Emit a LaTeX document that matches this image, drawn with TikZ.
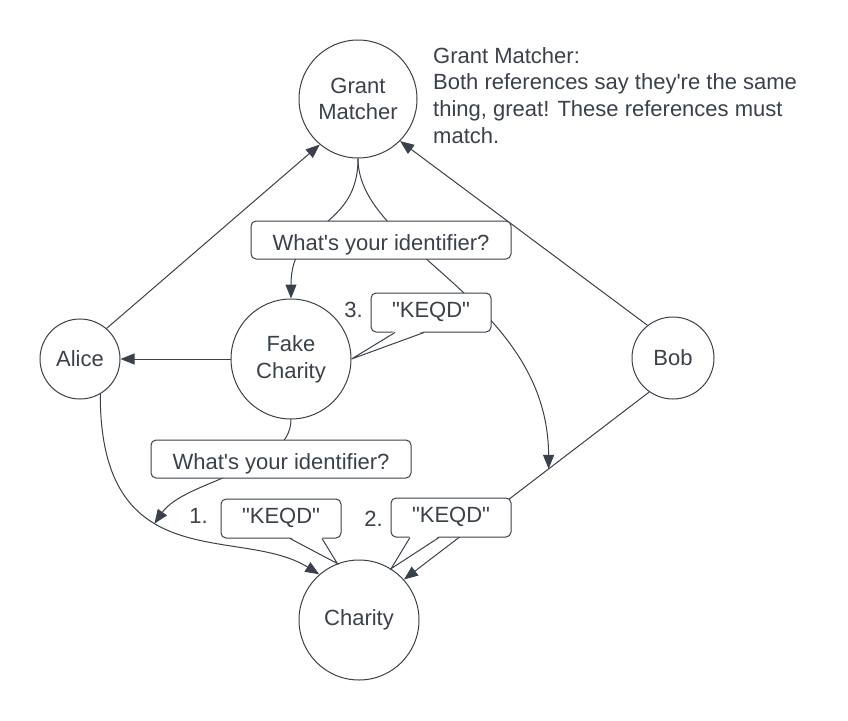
\documentclass[tikz,border=0pt]{standalone}
\usepackage{fontspec}
\newfontfamily\lucidfont{Liberation Sans}
\usetikzlibrary{arrows.meta,backgrounds,calc}
\definecolor{inkgray}{HTML}{3A414A}
\tikzset{
  actor/.style={
    circle,
    draw=inkgray,
    fill=white,
    line width=1pt,
    align=center,
    inner sep=0pt
  },
  querybox/.style={
    draw=inkgray,
    fill=white,
    rounded corners=5pt,
    line width=1pt,
    minimum width=260pt,
    minimum height=38pt,
    text height=21pt,
    text depth=0pt,
    inner sep=0pt
  },
  answerbox/.style={
    querybox,
    minimum width=120pt,
    minimum height=39pt,
    text height=9pt
  },
  flowarrow/.style={
    -{Triangle[length=14pt,width=11pt]},
    line width=1pt,
    draw=inkgray
  },
  calltail/.style={
    line width=1pt,
    draw=inkgray
  },
  stepnum/.style={anchor=base,inner sep=0pt}
}
% speech bubble tail: box, left offset, right offset, tip
\newcommand\speechtail[4]{%
  \fill[white] ([xshift=#2pt,yshift=1.5pt]#1.south) -- (#4) -- ([xshift=#3pt,yshift=1.5pt]#1.south) -- cycle;
  \draw[calltail] ([xshift=#2pt]#1.south) -- (#4) -- ([xshift=#3pt]#1.south);
}
\begin{document}
\begin{tikzpicture}[x=1pt,y=-1pt,font=\lucidfont\fontsize{22pt}{26.7pt}\selectfont,text=inkgray]
    \useasboundingbox (0,0) rectangle (848,720);

    \node[actor,minimum size=118pt] (matcher) at (358,99) {Grant\\Matcher};
    \node[actor,minimum size=120pt] (fake) at (291,359) {Fake\\Charity};
    \node[actor,minimum size=80pt] (alice) at (80,359) {Alice};
    \node[actor,minimum size=82pt] (bob) at (673,358) {Bob};
    \node[actor,minimum size=120pt] (charity) at (359,620) {Charity};

    \node[anchor=north west,align=left,inner sep=0pt] (note) at (433,47)
        {Grant Matcher:\\Both references say they're the same\\thing, great! These references must\\match.};

    \begin{scope}[on background layer]
        \fill[white] (0,0) rectangle (848,720);
        \draw[flowarrow] (alice.49) -- (matcher.230);
        \draw[flowarrow] (bob.128) -- (matcher.315);
        \draw[flowarrow] (fake.west) -- (alice.east);
        \draw[flowarrow] (bob.235) -- (charity.42) coordinate[pos=0.41] (hit);
        \draw[flowarrow] (alice.300) .. controls (100,580) and (240,525) .. (charity.131) coordinate[pos=0.4] (join);
        \draw[flowarrow] (matcher.south) .. controls (358,230) and (291,220) .. (fake.north);
        \draw[flowarrow] (matcher.south) .. controls (358,250) and (548,300) .. (hit);
        \draw[flowarrow] (fake.south) .. controls (291,470) and (185,480) .. (join);
    \end{scope}

    \node[querybox] (ask1) at (381,240) {What's your identifier?};
    \node[querybox] (ask2) at (281,459) {What's your identifier?};
    \node[answerbox] (reply1) at (281,518.5) {"KEQD"};
    \node[answerbox] (reply2) at (451,517.5) {"KEQD"};
    \node[answerbox] (reply3) at (431,312.5) {"KEQD"};

    \speechtail{reply1}{9}{41}{charity.111}
    \speechtail{reply2}{-41}{-12}{charity.58}
    \speechtail{reply3}{-36}{-7}{fake.east}

    \node[stepnum] (num1) at (198.5,523) {1.};
    \node[stepnum] (num2) at (373.5,526) {2.};
    \node[stepnum] (num3) at (353.5,317) {3.};
\end{tikzpicture}
\end{document}
